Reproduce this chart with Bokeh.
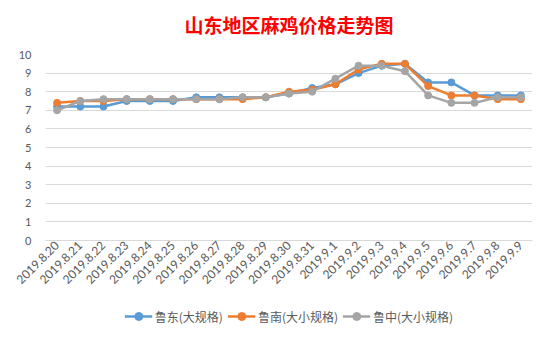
import math
from bokeh.plotting import figure
from bokeh.layouts import column
from bokeh.models import (ColumnDataSource, Range1d, FactorRange, Legend, LegendItem,
                          SingleIntervalTicker, Label)
from bokeh.embed import file_html
from bokeh.resources import INLINE

dates = ["2019.8.20", "2019.8.21", "2019.8.22", "2019.8.23", "2019.8.24", "2019.8.25",
         "2019.8.26", "2019.8.27", "2019.8.28", "2019.8.29", "2019.8.30", "2019.8.31",
         "2019.9.1", "2019.9.2", "2019.9.3", "2019.9.4", "2019.9.5", "2019.9.6",
         "2019.9.7", "2019.9.8", "2019.9.9"]
ludong = [7.2, 7.2, 7.2, 7.5, 7.5, 7.5, 7.7, 7.7, 7.7, 7.7, 7.9, 8.2, 8.4, 9.0, 9.4, 9.5, 8.5, 8.5, 7.8, 7.8, 7.8]
lunan = [7.4, 7.5, 7.5, 7.6, 7.6, 7.6, 7.6, 7.6, 7.6, 7.7, 8.0, 8.1, 8.4, 9.2, 9.5, 9.5, 8.3, 7.8, 7.8, 7.6, 7.6]
luzhong = [7.0, 7.5, 7.6, 7.6, 7.6, 7.6, 7.6, 7.6, 7.7, 7.7, 7.9, 8.0, 8.7, 9.4, 9.4, 9.1, 7.8, 7.4, 7.4, 7.7, 7.7]
names = ["鲁东(大规格)", "鲁南(大小规格)", "鲁中(大小规格)"]
colors = ["#5B9BD5", "#ED7D31", "#A5A5A5"]
title_text = "山东地区麻鸡价格走势图"

src = ColumnDataSource(dict(x=dates, a=ludong, b=lunan, c=luzhong))

# title strip
head = figure(width=550, height=46, x_range=Range1d(0, 550), y_range=Range1d(0, 46),
              output_backend="svg", toolbar_location=None, min_border=0)
head.axis.visible = False
head.grid.visible = False
head.outline_line_color = None
head.border_fill_color = "white"
head.add_layout(Label(x=275, y=22, text=title_text, text_align="center", text_baseline="middle",
                      text_color="#FF0000", text_font="Noto Sans CJK SC", text_font_size="19px",
                      text_font_style="bold"))

# main chart
p = figure(frame_width=487, frame_height=186, x_range=FactorRange(*dates, range_padding=0),
           y_range=Range1d(0, 10), output_backend="svg", toolbar_location=None,
           min_border_left=45, min_border_right=18, min_border_top=8, min_border_bottom=0)

p.outline_line_color = None
p.background_fill_color = "white"
p.border_fill_color = "white"

p.xgrid.grid_line_color = None
p.ygrid.grid_line_color = "#D9D9D9"
p.ygrid.grid_line_width = 1

p.yaxis.ticker = SingleIntervalTicker(interval=1)
p.yaxis.axis_line_color = None
p.yaxis.major_tick_line_color = None
p.yaxis.minor_tick_line_color = None
p.yaxis.major_label_text_color = "#595959"
p.yaxis.major_label_text_font = "Lato"
p.yaxis.major_label_text_font_size = "11px"
p.yaxis.major_label_standoff = 8

p.xaxis.axis_line_color = "#D9D9D9"
p.xaxis.major_tick_line_color = None
p.xaxis.minor_tick_line_color = None
p.xaxis.major_tick_out = 0
p.xaxis.major_label_orientation = math.pi / 4
p.xaxis.major_label_text_color = "#595959"
p.xaxis.major_label_text_font = "Lato"
p.xaxis.major_label_text_font_size = "12px"
p.xaxis.major_label_standoff = 3

for key, col in zip(["a", "b", "c"], colors):
    p.line("x", key, source=src, line_color=col, line_width=2.5)
    p.scatter("x", key, source=src, size=7, fill_color=col, line_color=col)

# legend strip below the chart (series drawn out of its visible range, only legend shows)
leg = figure(width=550, height=48, x_range=Range1d(0, 1), y_range=Range1d(0, 1),
             output_backend="svg", toolbar_location=None, min_border=0)
leg.axis.visible = False
leg.grid.visible = False
leg.outline_line_color = None
leg.border_fill_color = "white"

idx = list(range(len(dates)))
items = []
for name, col, vals in zip(names, colors, [ludong, lunan, luzhong]):
    l = leg.line(x=idx, y=vals, line_color=col, line_width=2.5)
    c = leg.scatter(x=idx, y=vals, size=7, fill_color=col, line_color=col)
    items.append(LegendItem(label=name, renderers=[l, c]))

legend = Legend(items=items, orientation="horizontal", location="bottom_center",
                label_text_font="Noto Sans CJK SC", label_text_font_size="12px",
                label_text_color="#595959", glyph_width=28, label_standoff=3, spacing=4,
                border_line_color=None, background_fill_alpha=0, margin=12, padding=0)
leg.add_layout(legend)

layout = column(head, p, leg, spacing=0)
open("out.html", "w").write(file_html(layout, INLINE))
